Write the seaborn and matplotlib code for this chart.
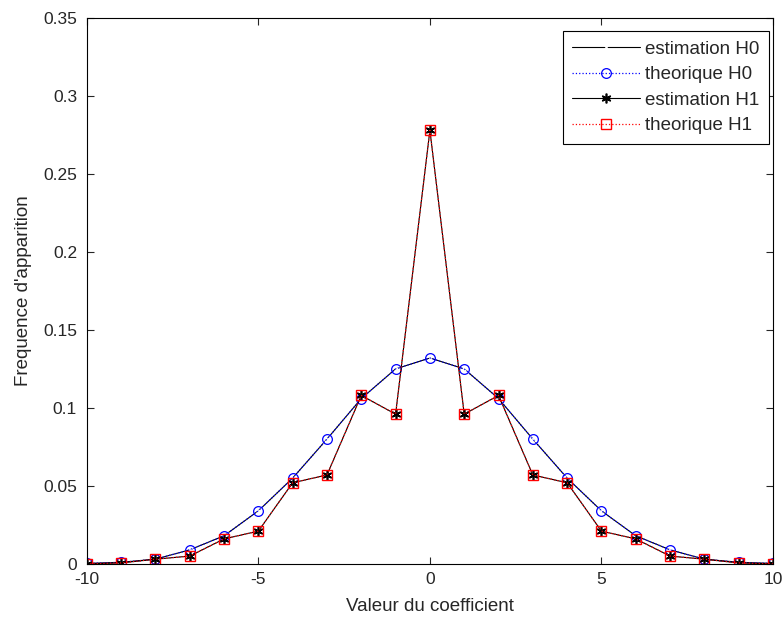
import numpy as np
import pandas as pd
import seaborn as sns
import matplotlib.pyplot as plt

# coefficient values and observed / theoretical frequencies
coef = list(range(-10, 11))
theo_h0 = [0.0003, 0.001, 0.003, 0.009, 0.018, 0.034, 0.055, 0.080, 0.106, 0.125, 0.132,
           0.125, 0.106, 0.080, 0.055, 0.034, 0.018, 0.009, 0.003, 0.001, 0.0003]
est_h0 = [0.0003, 0.001, 0.003, 0.009, 0.018, 0.034, 0.055, 0.080, 0.106, 0.125, 0.132,
          0.125, 0.106, 0.080, 0.055, 0.034, 0.018, 0.009, 0.003, 0.001, 0.0003]
theo_h1 = [0.0, 0.0006, 0.003, 0.005, 0.016, 0.021, 0.052, 0.057, 0.108, 0.096, 0.278,
           0.096, 0.108, 0.057, 0.052, 0.021, 0.016, 0.005, 0.003, 0.0006, 0.0]
est_h1 = [0.0, 0.0006, 0.003, 0.005, 0.016, 0.021, 0.052, 0.057, 0.108, 0.096, 0.278,
          0.096, 0.108, 0.057, 0.052, 0.021, 0.016, 0.005, 0.003, 0.0006, 0.0]

df = pd.DataFrame({'coef': coef, 'est_h0': est_h0, 'theo_h0': theo_h0,
                   'est_h1': est_h1, 'theo_h1': theo_h1})

sns.set_style("ticks")
plt.rcParams['font.family'] = ['Liberation Sans', 'DejaVu Sans']
plt.rcParams['axes.unicode_minus'] = False
plt.rcParams['xtick.direction'] = 'in'
plt.rcParams['ytick.direction'] = 'in'

fig = plt.figure(figsize=(7.82, 6.21), dpi=100)
ax = fig.add_axes([0.111, 0.092, 0.8775, 0.879])

sns.lineplot(data=df, x='coef', y='est_h0', ax=ax, color='black', linestyle='-', lw=0.8,
             marker='x', markersize=6, markeredgewidth=0.9, label='estimation H0')
sns.lineplot(data=df, x='coef', y='theo_h0', ax=ax, color='blue', linestyle=':', lw=0.9,
             marker='o', markersize=7, markerfacecolor='none', markeredgecolor='blue',
             markeredgewidth=0.9, label='theorique H0')
sns.lineplot(data=df, x='coef', y='est_h1', ax=ax, color='black', linestyle='-', lw=0.8,
             marker=(6, 2, 0), markersize=7, markeredgewidth=1.2, markeredgecolor='black',
             label='estimation H1')
sns.lineplot(data=df, x='coef', y='theo_h1', ax=ax, color='red', linestyle=':', lw=0.9,
             marker='s', markersize=7, markerfacecolor='none', markeredgecolor='red',
             markeredgewidth=1.0, label='theorique H1')

ax.set_xlim(-10, 10)
ax.set_ylim(0, 0.35)
ax.set_xticks([-10, -5, 0, 5, 10])
ax.set_yticks(np.arange(0, 0.351, 0.05))
ax.set_yticklabels(['0', '0.05', '0.1', '0.15', '0.2', '0.25', '0.3', '0.35'])
ax.tick_params(top=True, right=True, labelsize=12.5, length=5, width=0.8)
ax.tick_params(axis='y', pad=7)
ax.tick_params(axis='x', pad=6)
for s in ax.spines.values():
    s.set_linewidth(0.8)
    s.set_color('black')

ax.set_xlabel("Valeur du coefficient", fontsize=13.5, labelpad=8)
ax.set_ylabel("Frequence d'apparition", fontsize=13.5, labelpad=8)

leg = ax.legend(loc='upper right', bbox_to_anchor=(0.994, 0.976), borderaxespad=0,
                fontsize=13.5, handlelength=3.6, handletextpad=0.3, numpoints=1,
                fancybox=False, framealpha=1, edgecolor='black',
                labelspacing=0.45, borderpad=0.5)
leg.get_frame().set_linewidth(0.8)

fig.savefig('out.png', dpi=100)
